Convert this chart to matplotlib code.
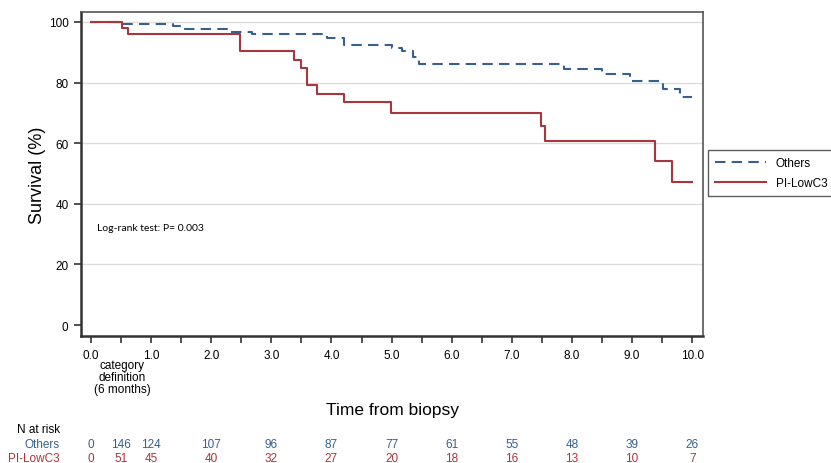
import numpy as np
import matplotlib.pyplot as plt
import matplotlib.transforms as mtransforms

plt.rcParams['font.family'] = ['Liberation Sans', 'DejaVu Sans']

# Kaplan-Meier step data (time in years, survival in %)
t_others = [0, 0.51, 1.37, 1.56, 2.31, 2.68, 3.92, 4.2, 5.0, 5.17, 5.36, 5.45, 7.86, 8.5, 8.97, 9.52, 9.8, 10.0]
s_others = [100, 99.3, 98.6, 97.7, 96.6, 95.9, 94.6, 92.4, 91.4, 90.3, 88.3, 86.2, 84.5, 83.0, 80.6, 78.0, 75.4, 75.4]

t_low = [0, 0.51, 0.62, 2.48, 3.38, 3.5, 3.59, 3.76, 4.2, 4.99, 7.48, 7.55, 9.38, 9.66, 10.0]
s_low = [100, 98.0, 96.0, 90.5, 87.6, 84.8, 79.2, 76.2, 73.6, 70.1, 65.6, 60.8, 54.0, 47.3, 47.3]

risk_times = [0, 0.5, 1, 2, 3, 4, 5, 6, 7, 8, 9, 10]
risk_others = [0, 146, 124, 107, 96, 87, 77, 61, 55, 48, 39, 26]
risk_low = [0, 51, 45, 40, 32, 27, 20, 18, 16, 13, 10, 7]

c_others = '#35608f'
c_low = '#a8363d'

fig = plt.figure(figsize=(8.31, 4.64), dpi=100)
ax = fig.add_axes([0.0975, 0.2737, 0.7485, 0.6983])

ax.step(t_others, s_others, where='post', color=c_others, lw=1.5,
        linestyle=(0, (5, 3)), label='Others')
ax.step(t_low, s_low, where='post', color=c_low, lw=1.5, label='PI-LowC3')

ax.set_xlim(-0.166, 10.18)
ax.set_ylim(-3.6, 103.3)
ax.set_yticks([0, 20, 40, 60, 80, 100])
ax.set_xticks(np.arange(0, 10.5, 0.5))
ax.set_xticklabels(['%.1f' % v if v == int(v) else '' for v in np.arange(0, 10.5, 0.5)])
for y in [20, 40, 60, 80, 100]:
    ax.axhline(y, color='#dcdcdc', lw=1, zorder=0)
ax.tick_params(labelsize=8.5, length=5, width=1.2, color='#333333', pad=4)
for sp in ['left', 'bottom']:
    ax.spines[sp].set_linewidth(1.8)
    ax.spines[sp].set_color('#333333')
for sp in ['top', 'right']:
    ax.spines[sp].set_linewidth(1.2)
    ax.spines[sp].set_color('#555555')

ax.set_ylabel('Survival (%)', fontsize=13, labelpad=2)
ax.text(0.1, 31.5, 'Log-rank test: P= 0.003', fontsize=7.5, family=['Lato', 'DejaVu Sans'])

fig.text(122 / 831, 1 - 378 / 464, 'category\ndefinition\n(6 months)', ha='center', va='center',
         fontsize=8.5, linespacing=0.95)
fig.text(392 / 831, 1 - 411 / 464, 'Time from biopsy', ha='center', va='center', fontsize=12.5)

leg = fig.legend(loc='center left', bbox_to_anchor=(708 / 831, 1 - 174 / 464), frameon=True,
                 fancybox=False, edgecolor='#333333', fontsize=8.5, handlelength=4.3,
                 borderpad=0.6, labelspacing=0.7, handletextpad=0.85, borderaxespad=0)
leg.get_frame().set_linewidth(1.0)

# risk table
trans = mtransforms.blended_transform_factory(ax.transData, fig.transFigure)
fig.text(60 / 831, 1 - 430 / 464, 'N at risk', ha='right', va='center', fontsize=8.5)
fig.text(60 / 831, 1 - 445 / 464, 'Others', ha='right', va='center', fontsize=8.5, color=c_others)
fig.text(60 / 831, 1 - 459 / 464, 'PI-LowC3', ha='right', va='center', fontsize=8.5, color=c_low)
for t, a, b in zip(risk_times, risk_others, risk_low):
    ax.text(t, 1 - 445 / 464, str(a), transform=trans, ha='center', va='center',
            fontsize=8.5, color=c_others, clip_on=False)
    ax.text(t, 1 - 459 / 464, str(b), transform=trans, ha='center', va='center',
            fontsize=8.5, color=c_low, clip_on=False)

plt.savefig('out.png', dpi=100)
plt.close()
